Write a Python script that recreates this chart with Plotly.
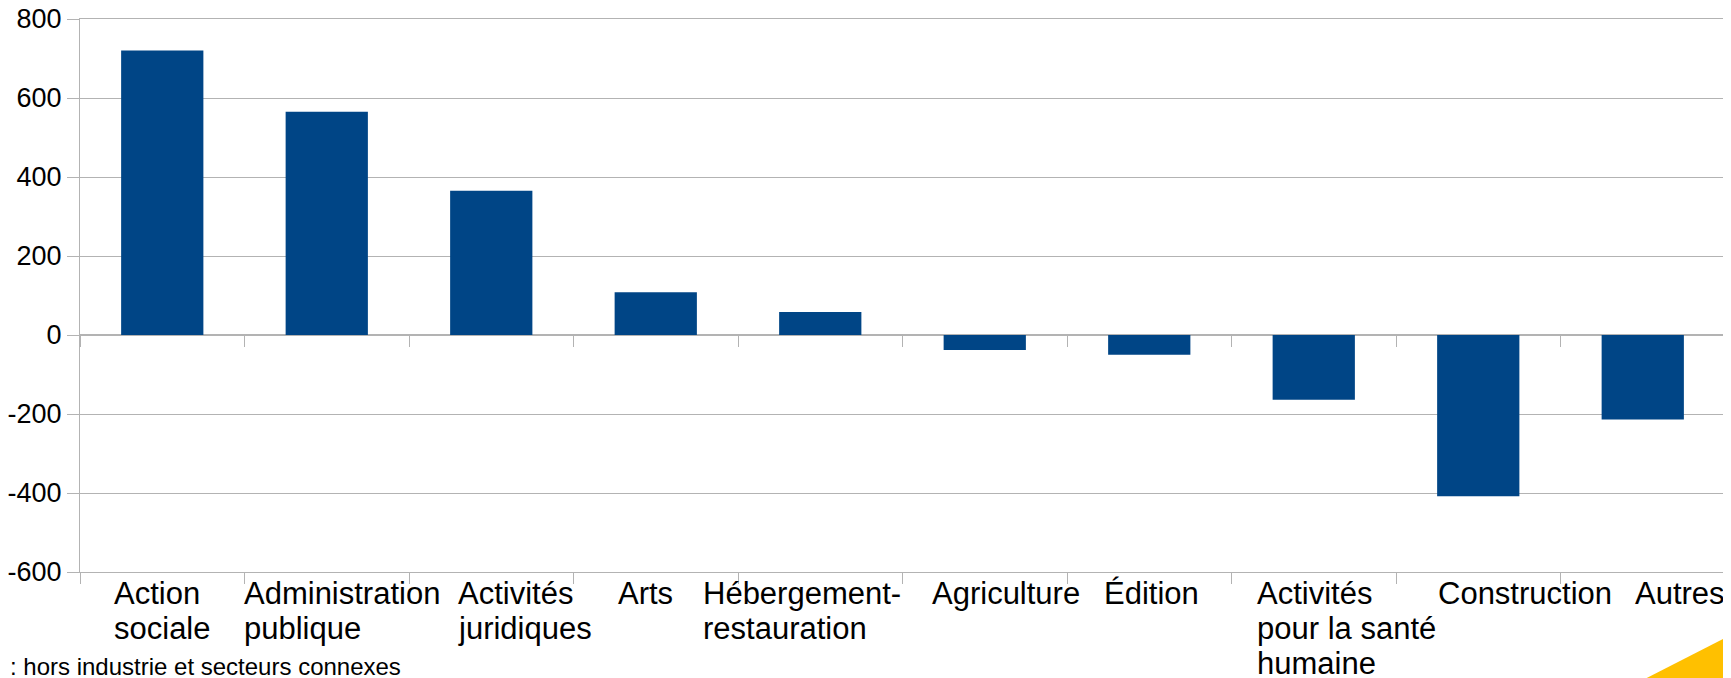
import plotly.graph_objects as go

# categories (line breaks as in the original labels)
categories = [
    "Action\nsociale",
    "Administration\npublique",
    "Activités\njuridiques",
    "Arts",
    "Hébergement-\nrestauration",
    "Agriculture",
    "Édition",
    "Activités\npour la santé\nhumaine",
    "Construction",
    "Autres",
]
values = [720, 565, 365, 108, 58, -38, -50, -164, -408, -214]
y_ticks = [-600, -400, -200, 0, 200, 400, 600, 800]
footnote = ": hors industrie et secteurs connexes"

# horizontal offset of each label block (left edge vs category centre), px
label_shift = [-49, -84, -34, -39, -118, -54, -46, -58, -41, -9]

FONT = "Liberation Sans"
GRID = "#b3b3b3"
BAR = "#004586"

keys = [c.replace("\n", " ") for c in categories]

fig = go.Figure()
fig.add_trace(go.Bar(x=keys, y=values, marker_color=BAR, marker_line_width=0,
                     hoverinfo="x+y", showlegend=False))
# invisible copy so the second (zero-line) axis has data to draw ticks for
fig.add_trace(go.Bar(x=keys, y=values, xaxis="x2", marker_color="rgba(0,0,0,0)",
                     hoverinfo="skip", showlegend=False))

# category labels: block left aligned, one annotation per line
annotations = []
for key, label, dx in zip(keys, categories, label_shift):
    for j, line in enumerate(label.split("\n")):
        annotations.append(dict(
            x=key, xref="x", y=0, yref="paper",
            xanchor="left", yanchor="top", xshift=dx, yshift=-3 - 35 * j,
            text=line, showarrow=False, borderpad=0, align="left",
            font=dict(family=FONT, size=31, color="black"),
        ))

annotations.append(dict(
    x=0, xref="paper", y=0, yref="paper", xanchor="left", yanchor="middle",
    xshift=-71, yshift=-94, text=footnote, showarrow=False, borderpad=0,
    font=dict(family=FONT, size=24, color="black"),
))

# the page body adds an 8px margin, so the figure is 8px smaller
fig.update_layout(
    template="none",
    width=1723, height=670,
    margin=dict(l=72, r=6, t=11, b=106, pad=0),
    paper_bgcolor="white", plot_bgcolor="white",
    bargap=0.5,
    annotations=annotations,
    font=dict(family=FONT, color="black"),
    xaxis=dict(
        type="category", range=[-0.5, 9.5], automargin=False,
        showline=True, linecolor=GRID, linewidth=1, mirror=True,
        ticks="outside", tickson="boundaries", ticklen=11, tickcolor=GRID,
        showticklabels=False, showgrid=False, zeroline=False,
    ),
    xaxis2=dict(
        type="category", overlaying="x", matches="x", anchor="free",
        position=600 / 1400, side="bottom", automargin=False,
        showline=False, ticks="outside", tickson="boundaries", ticklen=11,
        tickcolor=GRID, showticklabels=False, showgrid=False, zeroline=False,
    ),
    yaxis=dict(
        range=[-600, 800], tickvals=y_ticks, ticktext=[str(v) for v in y_ticks],
        automargin=False, ticklabeloverflow="allow",
        showgrid=True, gridcolor=GRID, gridwidth=1,
        zeroline=True, zerolinecolor=GRID, zerolinewidth=2,
        showline=True, linecolor=GRID, linewidth=1, mirror=True,
        ticks="outside", ticklen=12, tickcolor=GRID,
        tickfont=dict(family=FONT, size=27, color="black"),
    ),
)

# yellow corner decoration
fig.add_shape(
    type="path", xref="paper", yref="paper",
    path="M 0.9524 -0.1917 L 1.0036 -0.1139 L 1.0036 -0.1917 Z",
    fillcolor="#ffc000", line_width=0, layer="above",
)

fig.write_html("out.html")
